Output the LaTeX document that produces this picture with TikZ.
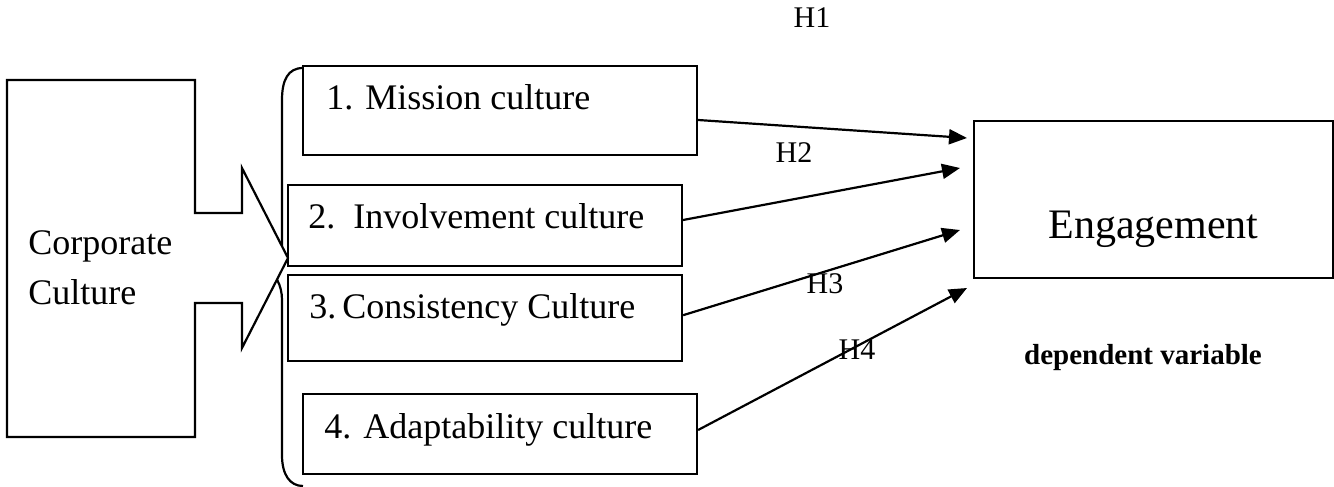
\documentclass[tikz,border=0pt]{standalone}
\usepackage{fontspec}
\setmainfont{Liberation Serif}
\usetikzlibrary{arrows.meta, positioning}
\tikzstyle{culture} = [rectangle, minimum width=197pt, inner sep=0pt, line width=1.1pt, draw=black]
\tikzstyle{outcome} = [rectangle, minimum width=179.5pt, minimum height=78.5pt, inner sep=0pt, line width=1.1pt, draw=black]
\tikzstyle{boxtext} = [anchor=base west, inner sep=0pt, font=\fontsize{18}{25}\selectfont]
\tikzstyle{hyp} = [anchor=base, inner sep=0pt, font=\fontsize{15}{18}\selectfont]
\tikzstyle{outline} = [line width=1.1pt, draw=black]
\tikzstyle{arrow} = [line width=1.1pt, -{Triangle[length=9pt,width=7.5pt]}]

\begin{document}
\begin{tikzpicture}[x=0.5pt, y=-0.5pt]
\useasboundingbox (0,0) rectangle (1334,487);

% brace round the four cultures
\draw [outline] (303,68) .. controls (288,68) and (282,80) .. (282,100) -- (282,245)
  .. controls (282,262) and (275,268) .. (265,270)
  .. controls (275,272) and (282,285) .. (282,300) -- (282,455)
  .. controls (282,475) and (290,486) .. (303,486);

% corporate culture callout
\draw [outline, fill=white] (7,80) -- (195,80) -- (195,213) -- (242,213) -- (242,168) -- (288,258)
  -- (242,348) -- (242,303) -- (195,303) -- (195,437) -- (7,437) -- cycle;
\node (corp) [anchor=west, align=left, inner sep=0pt, font=\fontsize{18}{25}\selectfont] at (28,268) {Corporate\\Culture};

\node (mission) [culture, minimum height=44.5pt] at (500,110.5) {};
\node (involv) [culture, minimum height=40.5pt] at (485,225.5) {};
\node (consis) [culture, minimum height=43pt, below=3.5pt of involv] {};
\node (adapt) [culture, minimum height=40pt] at (500,434) {};

\node (lmission) [boxtext] at ([xshift=12pt,yshift=-22.5pt]mission.north west) {1. Mission culture};
\node (linvolv) [boxtext] at ([xshift=10.5pt,yshift=-22.5pt]involv.north west) {2.\ \ Involvement culture};
\node (lconsis) [boxtext] at ([xshift=11pt,yshift=-22pt]consis.north west) {3.\,Consistency Culture};
\node (ladapt) [boxtext] at ([xshift=11pt,yshift=-23pt]adapt.north west) {4. Adaptability culture};

\node (engage) [outcome] at (1153.5,199.5) {};
\node (lengage) [anchor=base, inner sep=0pt, font=\fontsize{21}{25}\selectfont] at ([yshift=-19.25pt]engage.center) {Engagement};
\node (ldep) [anchor=base, inner sep=0pt, font=\bfseries\fontsize{14.5}{17}\selectfont] at ([xshift=-5.25pt,yshift=-42.5pt]engage.south) {dependent variable};

\coordinate (t1) at (967,138);
\coordinate (t2) at (960,168);
\coordinate (t3) at (960,230);
\coordinate (t4) at (967,288);

\draw [arrow] ([yshift=-4.75pt]mission.east) -- (t1);
\draw [arrow] ([yshift=2.75pt]involv.east) -- (t2);
\draw [arrow] ([yshift=1.5pt]consis.east) -- (t3);
\draw [arrow] ([yshift=2pt]adapt.east) -- (t4);

\node (h1) [hyp] at (812,27) {H1};
\node (h2) [hyp] at (794,162) {H2};
\node (h3) [hyp] at (825,293) {H3};
\node (h4) [hyp] at (857,359) {H4};

\end{tikzpicture}
\end{document}
